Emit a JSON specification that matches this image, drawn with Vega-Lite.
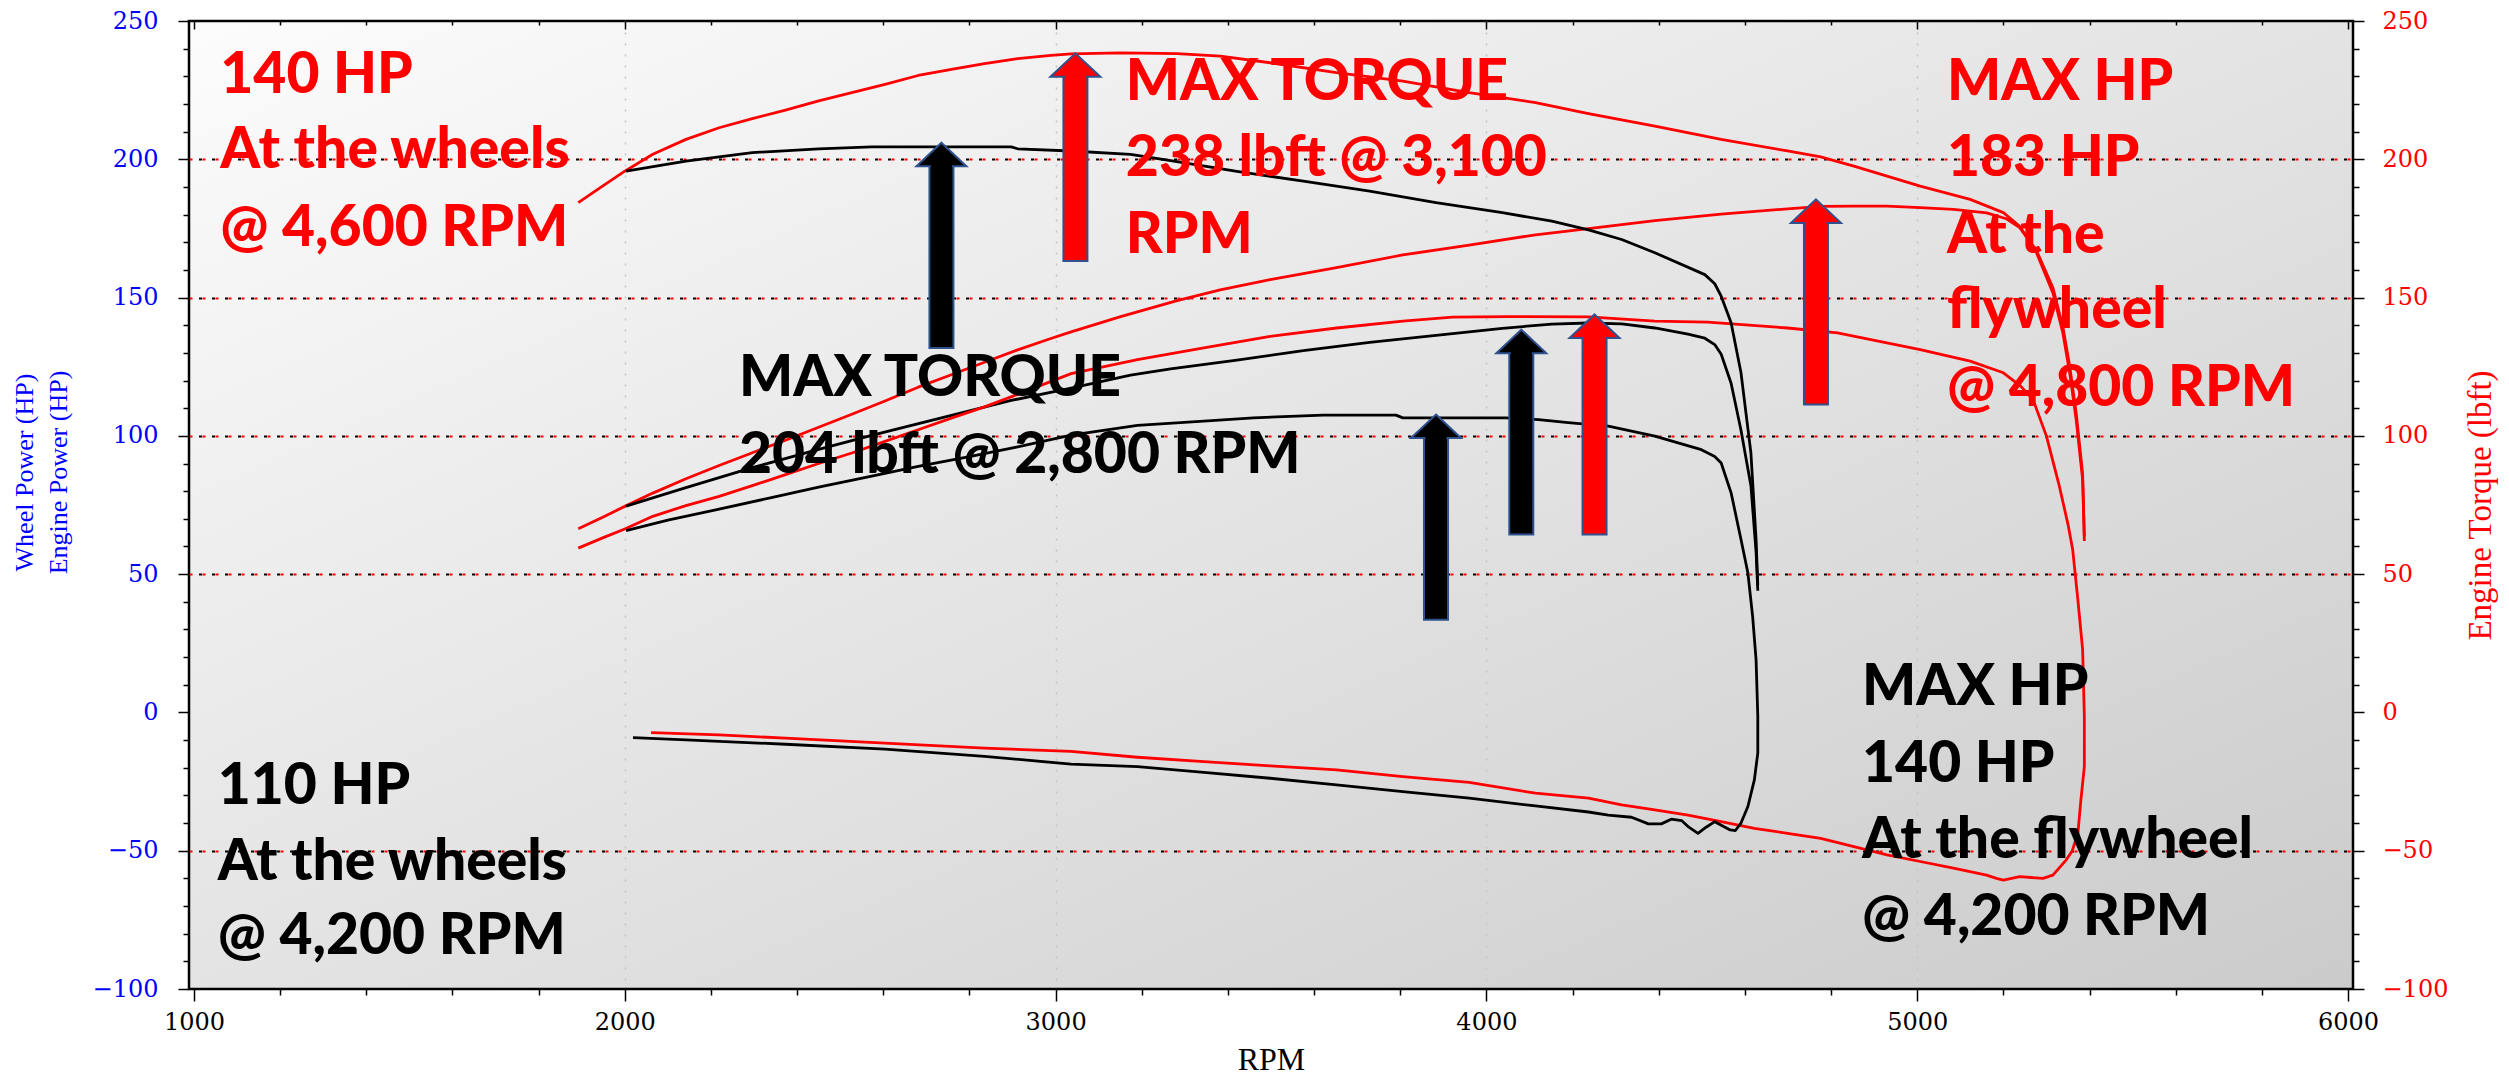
{
  "$schema": "https://vega.github.io/schema/vega-lite/v6.json",
  "width": 2164,
  "height": 968,
  "autosize": {"type": "none"},
  "padding": {"left": 189, "top": 21, "right": 156, "bottom": 99},
  "background": "white",
  "config": {
    "view": {
      "fill": {"gradient": "linear", "x1": 0, "y1": 0, "x2": 1, "y2": 1, "stops": [{"offset": 0, "color": "#fcfcfc"}, {"offset": 1, "color": "#cbcbcb"}]},
      "stroke": "#000000",
      "strokeWidth": 2.5
    }
  },
  "datasets": {
    "curves": [
      {"s":"T_a","i":0,"rpm":1892,"v":184.3},{"s":"T_a","i":1,"rpm":1950,"v":190.5},{"s":"T_a","i":2,"rpm":2000,"v":195.7},{"s":"T_a","i":3,"rpm":2065,"v":201.8},{"s":"T_a","i":4,"rpm":2142,"v":207.2},{"s":"T_a","i":5,"rpm":2219,"v":211.4},{"s":"T_a","i":6,"rpm":2296,"v":214.7},{"s":"T_a","i":7,"rpm":2373,"v":217.8},{"s":"T_a","i":8,"rpm":2450,"v":221.1},{"s":"T_a","i":9,"rpm":2527,"v":224.1},{"s":"T_a","i":10,"rpm":2604,"v":227.1},{"s":"T_a","i":11,"rpm":2681,"v":230.3},{"s":"T_a","i":12,"rpm":2758,"v":232.5},{"s":"T_a","i":13,"rpm":2835,"v":234.6},{"s":"T_a","i":14,"rpm":2912,"v":236.4},{"s":"T_a","i":15,"rpm":2989,"v":237.6},{"s":"T_a","i":16,"rpm":3036,"v":238.1},{"s":"T_a","i":17,"rpm":3151,"v":238.5},{"s":"T_a","i":18,"rpm":3282,"v":238.2},{"s":"T_a","i":19,"rpm":3382,"v":237.3},{"s":"T_a","i":20,"rpm":3498,"v":234.9},{"s":"T_a","i":21,"rpm":3652,"v":231.3},{"s":"T_a","i":22,"rpm":3806,"v":228.3},{"s":"T_a","i":23,"rpm":3960,"v":224.1},{"s":"T_a","i":24,"rpm":4114,"v":220.5},{"s":"T_a","i":25,"rpm":4237,"v":216.5},{"s":"T_a","i":26,"rpm":4391,"v":212},{"s":"T_a","i":27,"rpm":4545,"v":207.2},{"s":"T_a","i":28,"rpm":4699,"v":203},{"s":"T_a","i":29,"rpm":4776,"v":200.9},{"s":"T_a","i":30,"rpm":4853,"v":197.5},{"s":"T_a","i":31,"rpm":5007,"v":190.3},{"s":"T_a","i":32,"rpm":5123,"v":185.5},{"s":"T_a","i":33,"rpm":5200,"v":180.7},{"s":"T_a","i":34,"rpm":5238,"v":175.8},{"s":"T_a","i":35,"rpm":5277,"v":166.2},{"s":"T_a","i":36,"rpm":5315,"v":151.7},{"s":"T_a","i":37,"rpm":5338,"v":137.3},{"s":"T_a","i":38,"rpm":5354,"v":122.8},{"s":"T_a","i":39,"rpm":5369,"v":105.9},{"s":"T_a","i":40,"rpm":5384,"v":84.2},{"s":"T_a","i":41,"rpm":5388,"v":62},
      {"s":"T_b","i":0,"rpm":2003,"v":195.7},{"s":"T_b","i":1,"rpm":2142,"v":199.3},{"s":"T_b","i":2,"rpm":2296,"v":202.4},{"s":"T_b","i":3,"rpm":2450,"v":203.8},{"s":"T_b","i":4,"rpm":2573,"v":204.5},{"s":"T_b","i":5,"rpm":2897,"v":204.5},{"s":"T_b","i":6,"rpm":2912,"v":203.8},{"s":"T_b","i":7,"rpm":3036,"v":203},{"s":"T_b","i":8,"rpm":3174,"v":201.8},{"s":"T_b","i":9,"rpm":3267,"v":199.5},{"s":"T_b","i":10,"rpm":3421,"v":195.6},{"s":"T_b","i":11,"rpm":3575,"v":192.1},{"s":"T_b","i":12,"rpm":3729,"v":188.5},{"s":"T_b","i":13,"rpm":3883,"v":184.3},{"s":"T_b","i":14,"rpm":4037,"v":180.7},{"s":"T_b","i":15,"rpm":4152,"v":177.6},{"s":"T_b","i":16,"rpm":4237,"v":174.5},{"s":"T_b","i":17,"rpm":4314,"v":171},{"s":"T_b","i":18,"rpm":4391,"v":166.2},{"s":"T_b","i":19,"rpm":4507,"v":158.3},{"s":"T_b","i":20,"rpm":4530,"v":155},{"s":"T_b","i":21,"rpm":4545,"v":150.5},{"s":"T_b","i":22,"rpm":4568,"v":140.9},{"s":"T_b","i":23,"rpm":4591,"v":122.8},{"s":"T_b","i":24,"rpm":4614,"v":93.8},{"s":"T_b","i":25,"rpm":4626,"v":62.5},{"s":"T_b","i":26,"rpm":4630,"v":46},
      {"s":"P_a","i":0,"rpm":1892,"v":66.4},{"s":"P_a","i":1,"rpm":1950,"v":70.7},{"s":"P_a","i":2,"rpm":2000,"v":74.5},{"s":"P_a","i":3,"rpm":2065,"v":79.3},{"s":"P_a","i":4,"rpm":2142,"v":84.5},{"s":"P_a","i":5,"rpm":2219,"v":89.3},{"s":"P_a","i":6,"rpm":2296,"v":93.9},{"s":"P_a","i":7,"rpm":2373,"v":98.4},{"s":"P_a","i":8,"rpm":2450,"v":103.1},{"s":"P_a","i":9,"rpm":2527,"v":107.8},{"s":"P_a","i":10,"rpm":2604,"v":112.6},{"s":"P_a","i":11,"rpm":2681,"v":117.6},{"s":"P_a","i":12,"rpm":2758,"v":122.1},{"s":"P_a","i":13,"rpm":2835,"v":126.6},{"s":"P_a","i":14,"rpm":2912,"v":131.1},{"s":"P_a","i":15,"rpm":2989,"v":135.2},{"s":"P_a","i":16,"rpm":3036,"v":137.6},{"s":"P_a","i":17,"rpm":3151,"v":143.1},{"s":"P_a","i":18,"rpm":3282,"v":148.9},{"s":"P_a","i":19,"rpm":3382,"v":152.8},{"s":"P_a","i":20,"rpm":3498,"v":156.5},{"s":"P_a","i":21,"rpm":3652,"v":160.8},{"s":"P_a","i":22,"rpm":3806,"v":165.4},{"s":"P_a","i":23,"rpm":3960,"v":169},{"s":"P_a","i":24,"rpm":4114,"v":172.7},{"s":"P_a","i":25,"rpm":4237,"v":174.9},{"s":"P_a","i":26,"rpm":4391,"v":177.8},{"s":"P_a","i":27,"rpm":4545,"v":180.2},{"s":"P_a","i":28,"rpm":4699,"v":182.1},{"s":"P_a","i":29,"rpm":4776,"v":183},{"s":"P_a","i":30,"rpm":4853,"v":183.1},{"s":"P_a","i":31,"rpm":4930,"v":183.1},{"s":"P_a","i":32,"rpm":5007,"v":182.5},{"s":"P_a","i":33,"rpm":5084,"v":181.9},{"s":"P_a","i":34,"rpm":5161,"v":180.6},{"s":"P_a","i":35,"rpm":5207,"v":178.5},{"s":"P_a","i":36,"rpm":5238,"v":175.3},{"s":"P_a","i":37,"rpm":5277,"v":167},{"s":"P_a","i":38,"rpm":5315,"v":153.5},{"s":"P_a","i":39,"rpm":5338,"v":139.5},{"s":"P_a","i":40,"rpm":5354,"v":125.2},{"s":"P_a","i":41,"rpm":5369,"v":108.3},{"s":"P_a","i":42,"rpm":5384,"v":86.3},{"s":"P_a","i":43,"rpm":5388,"v":63.6},
      {"s":"P_b","i":0,"rpm":2003,"v":74.6},{"s":"P_b","i":1,"rpm":2142,"v":81.3},{"s":"P_b","i":2,"rpm":2296,"v":88.5},{"s":"P_b","i":3,"rpm":2450,"v":95.1},{"s":"P_b","i":4,"rpm":2573,"v":100.2},{"s":"P_b","i":5,"rpm":2735,"v":106.5},{"s":"P_b","i":6,"rpm":2897,"v":112.8},{"s":"P_b","i":7,"rpm":3036,"v":117.3},{"s":"P_b","i":8,"rpm":3174,"v":122},{"s":"P_b","i":9,"rpm":3267,"v":124.2},{"s":"P_b","i":10,"rpm":3421,"v":127.4},{"s":"P_b","i":11,"rpm":3575,"v":130.8},{"s":"P_b","i":12,"rpm":3729,"v":133.8},{"s":"P_b","i":13,"rpm":3883,"v":136.3},{"s":"P_b","i":14,"rpm":4037,"v":138.9},{"s":"P_b","i":15,"rpm":4152,"v":140.4},{"s":"P_b","i":16,"rpm":4237,"v":140.8},{"s":"P_b","i":17,"rpm":4314,"v":140.5},{"s":"P_b","i":18,"rpm":4391,"v":139},{"s":"P_b","i":19,"rpm":4468,"v":136.8},{"s":"P_b","i":20,"rpm":4507,"v":135.3},{"s":"P_b","i":21,"rpm":4530,"v":133},{"s":"P_b","i":22,"rpm":4545,"v":129.5},{"s":"P_b","i":23,"rpm":4568,"v":119},{"s":"P_b","i":24,"rpm":4591,"v":102},{"s":"P_b","i":25,"rpm":4614,"v":82},{"s":"P_b","i":26,"rpm":4626,"v":58},{"s":"P_b","i":27,"rpm":4630,"v":44},
      {"s":"W_a","i":0,"rpm":1892,"v":59.4},{"s":"W_a","i":1,"rpm":1950,"v":63.2},{"s":"W_a","i":2,"rpm":2000,"v":66.3},{"s":"W_a","i":3,"rpm":2065,"v":70.9},{"s":"W_a","i":4,"rpm":2142,"v":74.8},{"s":"W_a","i":5,"rpm":2219,"v":78.1},{"s":"W_a","i":6,"rpm":2296,"v":82},{"s":"W_a","i":7,"rpm":2373,"v":86},{"s":"W_a","i":8,"rpm":2450,"v":90},{"s":"W_a","i":9,"rpm":2527,"v":93.8},{"s":"W_a","i":10,"rpm":2604,"v":98},{"s":"W_a","i":11,"rpm":2681,"v":102.2},{"s":"W_a","i":12,"rpm":2758,"v":106.4},{"s":"W_a","i":13,"rpm":2835,"v":110.5},{"s":"W_a","i":14,"rpm":2912,"v":115},{"s":"W_a","i":15,"rpm":3036,"v":122.5},{"s":"W_a","i":16,"rpm":3190,"v":127.6},{"s":"W_a","i":17,"rpm":3344,"v":131.8},{"s":"W_a","i":18,"rpm":3498,"v":136},{"s":"W_a","i":19,"rpm":3652,"v":139},{"s":"W_a","i":20,"rpm":3806,"v":141.5},{"s":"W_a","i":21,"rpm":3921,"v":142.9},{"s":"W_a","i":22,"rpm":4050,"v":143.1},{"s":"W_a","i":23,"rpm":4237,"v":143},{"s":"W_a","i":24,"rpm":4391,"v":141.5},{"s":"W_a","i":25,"rpm":4514,"v":141.1},{"s":"W_a","i":26,"rpm":4699,"v":139},{"s":"W_a","i":27,"rpm":4815,"v":137.2},{"s":"W_a","i":28,"rpm":5007,"v":131.2},{"s":"W_a","i":29,"rpm":5123,"v":127},{"s":"W_a","i":30,"rpm":5200,"v":122.8},{"s":"W_a","i":31,"rpm":5240,"v":118},{"s":"W_a","i":32,"rpm":5269,"v":113.1},{"s":"W_a","i":33,"rpm":5300,"v":99.9},{"s":"W_a","i":34,"rpm":5330,"v":81.8},{"s":"W_a","i":35,"rpm":5350,"v":68},{"s":"W_a","i":36,"rpm":5361,"v":58.8},{"s":"W_a","i":37,"rpm":5373,"v":40.7},{"s":"W_a","i":38,"rpm":5384,"v":22.7},{"s":"W_a","i":39,"rpm":5388,"v":-1.5},{"s":"W_a","i":40,"rpm":5388,"v":-19.6},{"s":"W_a","i":41,"rpm":5380,"v":-31.6},{"s":"W_a","i":42,"rpm":5373,"v":-43.7},{"s":"W_a","i":43,"rpm":5360,"v":-50},{"s":"W_a","i":44,"rpm":5346,"v":-53.3},{"s":"W_a","i":45,"rpm":5315,"v":-58.8},{"s":"W_a","i":46,"rpm":5292,"v":-60},{"s":"W_a","i":47,"rpm":5238,"v":-59.4},{"s":"W_a","i":48,"rpm":5200,"v":-60.6},{"s":"W_a","i":49,"rpm":5184,"v":-60},{"s":"W_a","i":50,"rpm":5161,"v":-58.8},{"s":"W_a","i":51,"rpm":5084,"v":-56.3},{"s":"W_a","i":52,"rpm":5007,"v":-53.9},{"s":"W_a","i":53,"rpm":4930,"v":-51.5},{"s":"W_a","i":54,"rpm":4853,"v":-48.5},{"s":"W_a","i":55,"rpm":4776,"v":-45.5},{"s":"W_a","i":56,"rpm":4699,"v":-43.7},{"s":"W_a","i":57,"rpm":4622,"v":-41.9},{"s":"W_a","i":58,"rpm":4545,"v":-39.5},{"s":"W_a","i":59,"rpm":4468,"v":-37.1},{"s":"W_a","i":60,"rpm":4391,"v":-35.2},{"s":"W_a","i":61,"rpm":4314,"v":-33.4},{"s":"W_a","i":62,"rpm":4237,"v":-31},{"s":"W_a","i":63,"rpm":4114,"v":-29.2},{"s":"W_a","i":64,"rpm":3960,"v":-25.3},{"s":"W_a","i":65,"rpm":3806,"v":-23.2},{"s":"W_a","i":66,"rpm":3652,"v":-20.8},{"s":"W_a","i":67,"rpm":3498,"v":-19.3},{"s":"W_a","i":68,"rpm":3344,"v":-17.8},{"s":"W_a","i":69,"rpm":3190,"v":-16.2},{"s":"W_a","i":70,"rpm":3036,"v":-14.1},{"s":"W_a","i":71,"rpm":2835,"v":-12.9},{"s":"W_a","i":72,"rpm":2604,"v":-11.1},{"s":"W_a","i":73,"rpm":2373,"v":-9.3},{"s":"W_a","i":74,"rpm":2219,"v":-8.1},{"s":"W_a","i":75,"rpm":2061,"v":-7.3},
      {"s":"W_b","i":0,"rpm":2003,"v":65.7},{"s":"W_b","i":1,"rpm":2100,"v":69.5},{"s":"W_b","i":2,"rpm":2219,"v":73.5},{"s":"W_b","i":3,"rpm":2335,"v":77.5},{"s":"W_b","i":4,"rpm":2450,"v":81.5},{"s":"W_b","i":5,"rpm":2565,"v":85.2},{"s":"W_b","i":6,"rpm":2681,"v":89},{"s":"W_b","i":7,"rpm":2800,"v":92.5},{"s":"W_b","i":8,"rpm":2912,"v":96},{"s":"W_b","i":9,"rpm":3036,"v":100.3},{"s":"W_b","i":10,"rpm":3190,"v":103.8},{"s":"W_b","i":11,"rpm":3344,"v":105.3},{"s":"W_b","i":12,"rpm":3459,"v":106.5},{"s":"W_b","i":13,"rpm":3621,"v":107.5},{"s":"W_b","i":14,"rpm":3790,"v":107.5},{"s":"W_b","i":15,"rpm":3806,"v":106.5},{"s":"W_b","i":16,"rpm":4045,"v":106.5},{"s":"W_b","i":17,"rpm":4121,"v":105.9},{"s":"W_b","i":18,"rpm":4190,"v":104.8},{"s":"W_b","i":19,"rpm":4283,"v":103.5},{"s":"W_b","i":20,"rpm":4391,"v":99.9},{"s":"W_b","i":21,"rpm":4499,"v":95},{"s":"W_b","i":22,"rpm":4530,"v":92.5},{"s":"W_b","i":23,"rpm":4545,"v":90.2},{"s":"W_b","i":24,"rpm":4568,"v":79.4},{"s":"W_b","i":25,"rpm":4591,"v":62.5},{"s":"W_b","i":26,"rpm":4607,"v":50.4},{"s":"W_b","i":27,"rpm":4618,"v":34.7},{"s":"W_b","i":28,"rpm":4626,"v":19},{"s":"W_b","i":29,"rpm":4630,"v":-1.5},{"s":"W_b","i":30,"rpm":4630,"v":-14.7},{"s":"W_b","i":31,"rpm":4622,"v":-24.4},{"s":"W_b","i":32,"rpm":4607,"v":-34},{"s":"W_b","i":33,"rpm":4591,"v":-40},{"s":"W_b","i":34,"rpm":4578,"v":-42.7},{"s":"W_b","i":35,"rpm":4566,"v":-42.5},{"s":"W_b","i":36,"rpm":4530,"v":-39.5},{"s":"W_b","i":37,"rpm":4510,"v":-41.5},{"s":"W_b","i":38,"rpm":4491,"v":-43.7},{"s":"W_b","i":39,"rpm":4470,"v":-41.5},{"s":"W_b","i":40,"rpm":4453,"v":-39.1},{"s":"W_b","i":41,"rpm":4429,"v":-38.6},{"s":"W_b","i":42,"rpm":4406,"v":-40.3},{"s":"W_b","i":43,"rpm":4376,"v":-40.3},{"s":"W_b","i":44,"rpm":4337,"v":-37.9},{"s":"W_b","i":45,"rpm":4283,"v":-37.1},{"s":"W_b","i":46,"rpm":4237,"v":-36},{"s":"W_b","i":47,"rpm":4114,"v":-33.8},{"s":"W_b","i":48,"rpm":3960,"v":-31},{"s":"W_b","i":49,"rpm":3806,"v":-28.6},{"s":"W_b","i":50,"rpm":3652,"v":-26.2},{"s":"W_b","i":51,"rpm":3498,"v":-23.8},{"s":"W_b","i":52,"rpm":3344,"v":-21.7},{"s":"W_b","i":53,"rpm":3190,"v":-19.6},{"s":"W_b","i":54,"rpm":3036,"v":-18.7},{"s":"W_b","i":55,"rpm":2835,"v":-15.9},{"s":"W_b","i":56,"rpm":2604,"v":-13.3},{"s":"W_b","i":57,"rpm":2373,"v":-11.5},{"s":"W_b","i":58,"rpm":2142,"v":-9.9},{"s":"W_b","i":59,"rpm":2019,"v":-9.1}
    ],
    "arrows": [
      {"car":"before","rpm":2735,"base":131.8,"neck":197.5,"tip":206},
      {"car":"after","rpm":3046,"base":163.2,"neck":228.9,"tip":238.3},
      {"car":"before","rpm":3883,"base":33.5,"neck":99.2,"tip":107.7},
      {"car":"before","rpm":4081,"base":64.3,"neck":130.4,"tip":138.4},
      {"car":"after","rpm":4251,"base":64.3,"neck":135.4,"tip":143.9},
      {"car":"after","rpm":4765,"base":111.3,"neck":177.3,"tip":185.5}
    ],
    "notes": [
      {"car":"after","rpm":1061,"v":224.1,"t":"140 HP"},
      {"car":"after","rpm":1061,"v":197.0,"t":"At the wheels"},
      {"car":"after","rpm":1061,"v":168.6,"t":"@ 4,600 RPM"},
      {"car":"after","rpm":3163,"v":221.6,"t":"MAX TORQUE"},
      {"car":"after","rpm":3163,"v":193.9,"t":"238 lbft @ 3,100"},
      {"car":"after","rpm":3163,"v":166.2,"t":"RPM"},
      {"car":"after","rpm":5069,"v":221.6,"t":"MAX HP"},
      {"car":"after","rpm":5069,"v":193.9,"t":"183 HP"},
      {"car":"after","rpm":5069,"v":166.2,"t":"At the"},
      {"car":"after","rpm":5069,"v":139.1,"t":"flywheel"},
      {"car":"after","rpm":5069,"v":110.7,"t":"@ 4,800 RPM"},
      {"car":"before","rpm":2265,"v":114.3,"t":"MAX TORQUE"},
      {"car":"before","rpm":2265,"v":86.6,"t":"204 lbft @ 2,800 RPM"},
      {"car":"before","rpm":1055,"v":-33,"t":"110 HP"},
      {"car":"before","rpm":1055,"v":-60.5,"t":"At the wheels"},
      {"car":"before","rpm":1055,"v":-87.5,"t":"@ 4,200 RPM"},
      {"car":"before","rpm":4872,"v":2.8,"t":"MAX HP"},
      {"car":"before","rpm":4872,"v":-25,"t":"140 HP"},
      {"car":"before","rpm":4872,"v":-52.7,"t":"At the flywheel"},
      {"car":"before","rpm":4872,"v":-80.4,"t":"@ 4,200 RPM"}
    ]
  },
  "layer": [
    {
      "mark": {"type": "rule", "color": "#000000", "strokeWidth": 1.5},
      "encoding": {
        "y": {"datum": 0, "type": "quantitative", "scale": {"domain": [-100, 250], "nice": false, "zero": false}, "axis": null}
      }
    },
    {
      "data": {"name": "curves"},
      "transform": [{"filter": "datum.s !== 'T_a' && datum.s !== 'T_b'"}],
      "mark": {"type": "line", "strokeWidth": 2.8, "strokeJoin": "round"},
      "encoding": {
        "x": {
          "field": "rpm", "type": "quantitative",
          "scale": {"domain": [1000, 6000], "nice": false, "zero": false},
          "axis": {
            "orient": "bottom",
            "values": [1000,1200,1400,1600,1800,2000,2200,2400,2600,2800,3000,3200,3400,3600,3800,4000,4200,4400,4600,4800,5000,5200,5400,5600,5800,6000],
            "format": "d",
            "labelExpr": "datum.value % 1000 === 0 ? datum.label : ''",
            "labelOverlap": false, "labelFlush": false, "labelBound": false,
            "labelFont": "DejaVu Serif", "labelFontSize": 24, "labelColor": "#000000", "labelPadding": 9,
            "tickColor": "#000000", "tickWidth": 1.5,
            "tickSize": {"condition": {"test": "datum.value % 1000 === 0", "value": 12}, "value": 6},
            "domain": false,
            "grid": true, "gridColor": "#c4c4c4", "gridDash": [2, 9], "gridWidth": 1.5,
            "gridOpacity": {"condition": {"test": "datum.value % 1000 === 0 && datum.value > 1000 && datum.value < 6000", "value": 1}, "value": 0},
            "title": "RPM", "titleFont": "Liberation Serif", "titleFontSize": 32, "titleFontWeight": "normal", "titleColor": "#000000", "titlePadding": 10
          }
        },
        "y": {
          "field": "v", "type": "quantitative",
          "scale": {"domain": [-100, 250], "nice": false, "zero": false},
          "axis": {
            "orient": "left",
            "values": [-100,-90,-80,-70,-60,-50,-40,-30,-20,-10,0,10,20,30,40,50,60,70,80,90,100,110,120,130,140,150,160,170,180,190,200,210,220,230,240,250],
            "labelExpr": "datum.value % 50 === 0 ? datum.label : ''",
            "labelOverlap": false, "labelFlush": false, "labelBound": false,
            "labelFont": "DejaVu Serif", "labelFontSize": 24, "labelColor": "#0000FF", "labelPadding": 20,
            "tickColor": "#000000", "tickWidth": 1.5,
            "tickSize": {"condition": {"test": "datum.value % 50 === 0", "value": 11}, "value": 6},
            "domain": false,
            "grid": true, "gridColor": "#FF0000", "gridDash": [3, 10], "gridWidth": 2,
            "gridOpacity": {"condition": {"test": "datum.value % 50 === 0 && datum.value !== 0 && datum.value > -100 && datum.value < 250", "value": 1}, "value": 0},
            "title": ["Wheel Power (HP)", "Engine Power (HP)"], "titleColor": "#0000FF", "titleFont": "Liberation Serif", "titleFontSize": 26, "titleFontWeight": "normal", "titlePadding": 21, "titleLineHeight": 34, "titleY": 451
          }
        },
        "color": {"field": "s", "type": "nominal", "scale": {"domain": ["T_a","T_b","P_a","P_b","W_a","W_b"], "range": ["#FF0000","#000000","#FF0000","#000000","#FF0000","#000000"]}, "legend": null},
        "order": {"field": "i", "type": "quantitative"}
      }
    },
    {
      "data": {"name": "curves"},
      "transform": [{"filter": "datum.s === 'T_a' || datum.s === 'T_b'"}],
      "mark": {"type": "line", "strokeWidth": 2.8, "strokeJoin": "round"},
      "encoding": {
        "x": {"field": "rpm", "type": "quantitative", "scale": {"domain": [1000, 6000], "nice": false, "zero": false}, "axis": null},
        "y": {
          "field": "v", "type": "quantitative",
          "scale": {"domain": [-100, 250], "nice": false, "zero": false},
          "axis": {
            "orient": "right",
            "values": [-100,-90,-80,-70,-60,-50,-40,-30,-20,-10,0,10,20,30,40,50,60,70,80,90,100,110,120,130,140,150,160,170,180,190,200,210,220,230,240,250],
            "labelExpr": "datum.value % 50 === 0 ? datum.label : ''",
            "labelOverlap": false, "labelFlush": false, "labelBound": false,
            "labelFont": "DejaVu Serif", "labelFontSize": 24, "labelColor": "#FF0000", "labelPadding": 18,
            "tickColor": "#000000", "tickWidth": 1.5,
            "tickSize": {"condition": {"test": "datum.value % 50 === 0", "value": 11}, "value": 6},
            "domain": false,
            "grid": true, "gridColor": "#000000", "gridDash": [3, 10], "gridDashOffset": 6.5, "gridWidth": 2,
            "gridOpacity": {"condition": {"test": "datum.value % 50 === 0 && datum.value !== 0 && datum.value > -100 && datum.value < 250", "value": 1}, "value": 0},
            "title": "Engine Torque (lbft)", "titleColor": "#FF0000", "titleFont": "Liberation Serif", "titleFontSize": 33, "titleFontWeight": "normal", "titleAngle": 270, "titlePadding": 50
          }
        },
        "color": {"field": "s", "type": "nominal", "scale": {"domain": ["T_a","T_b","P_a","P_b","W_a","W_b"], "range": ["#FF0000","#000000","#FF0000","#000000","#FF0000","#000000"]}, "legend": null},
        "order": {"field": "i", "type": "quantitative"}
      }
    },
    {
      "data": {"name": "arrows"},
      "mark": {"type": "bar", "width": 24, "stroke": "#2F528F", "strokeWidth": 2, "y2Offset": -2},
      "encoding": {
        "x": {
          "field": "rpm", "type": "quantitative", "scale": {"domain": [1000, 6000], "nice": false, "zero": false},
          "axis": {
            "orient": "top",
            "values": [1000,1200,1400,1600,1800,2000,2200,2400,2600,2800,3000,3200,3400,3600,3800,4000,4200,4400,4600,4800,5000,5200,5400,5600,5800,6000],
            "labels": false, "domain": false, "grid": false, "title": null,
            "tickColor": "#000000", "tickWidth": 1.5,
            "tickSize": {"condition": {"test": "datum.value % 1000 === 0", "value": -8}, "value": -4}
          }
        },
        "y": {"field": "base", "type": "quantitative", "scale": {"domain": [-100, 250], "nice": false, "zero": false}, "axis": null},
        "y2": {"field": "neck"},
        "fill": {"field": "car", "type": "nominal", "scale": {"domain": ["after", "before"], "range": ["#FF0000", "#000000"]}, "legend": null}
      }
    },
    {
      "data": {"name": "arrows"},
      "mark": {"type": "point", "shape": "M0,0L1,0.94L-1,0.94Z", "size": 2500, "filled": true, "opacity": 1, "stroke": "#2F528F", "strokeWidth": 2},
      "encoding": {
        "x": {"field": "rpm", "type": "quantitative", "scale": {"domain": [1000, 6000], "nice": false, "zero": false}, "axis": null},
        "y": {"field": "tip", "type": "quantitative", "scale": {"domain": [-100, 250], "nice": false, "zero": false}, "axis": null},
        "fill": {"field": "car", "type": "nominal", "scale": {"domain": ["after", "before"], "range": ["#FF0000", "#000000"]}, "legend": null}
      }
    },
    {
      "data": {"name": "arrows"},
      "mark": {"type": "bar", "width": 21, "yOffset": -3, "y2Offset": -4},
      "encoding": {
        "x": {"field": "rpm", "type": "quantitative", "scale": {"domain": [1000, 6000], "nice": false, "zero": false}, "axis": null},
        "y": {"field": "base", "type": "quantitative", "scale": {"domain": [-100, 250], "nice": false, "zero": false}, "axis": null},
        "y2": {"field": "neck"},
        "fill": {"field": "car", "type": "nominal", "scale": {"domain": ["after", "before"], "range": ["#FF0000", "#000000"]}, "legend": null}
      }
    },
    {
      "data": {"name": "notes"},
      "mark": {"type": "text", "font": "Lato", "fontWeight": 900, "fontSize": 57, "align": "left", "baseline": "alphabetic"},
      "encoding": {
        "x": {"field": "rpm", "type": "quantitative", "scale": {"domain": [1000, 6000], "nice": false, "zero": false}, "axis": null},
        "y": {"field": "v", "type": "quantitative", "scale": {"domain": [-100, 250], "nice": false, "zero": false}, "axis": null},
        "text": {"field": "t"},
        "fill": {"field": "car", "type": "nominal", "scale": {"domain": ["after", "before"], "range": ["#FF0000", "#000000"]}, "legend": null}
      }
    }
  ],
  "resolve": {"scale": {"y": "independent"}, "axis": {"x": "independent", "y": "independent"}}
}
